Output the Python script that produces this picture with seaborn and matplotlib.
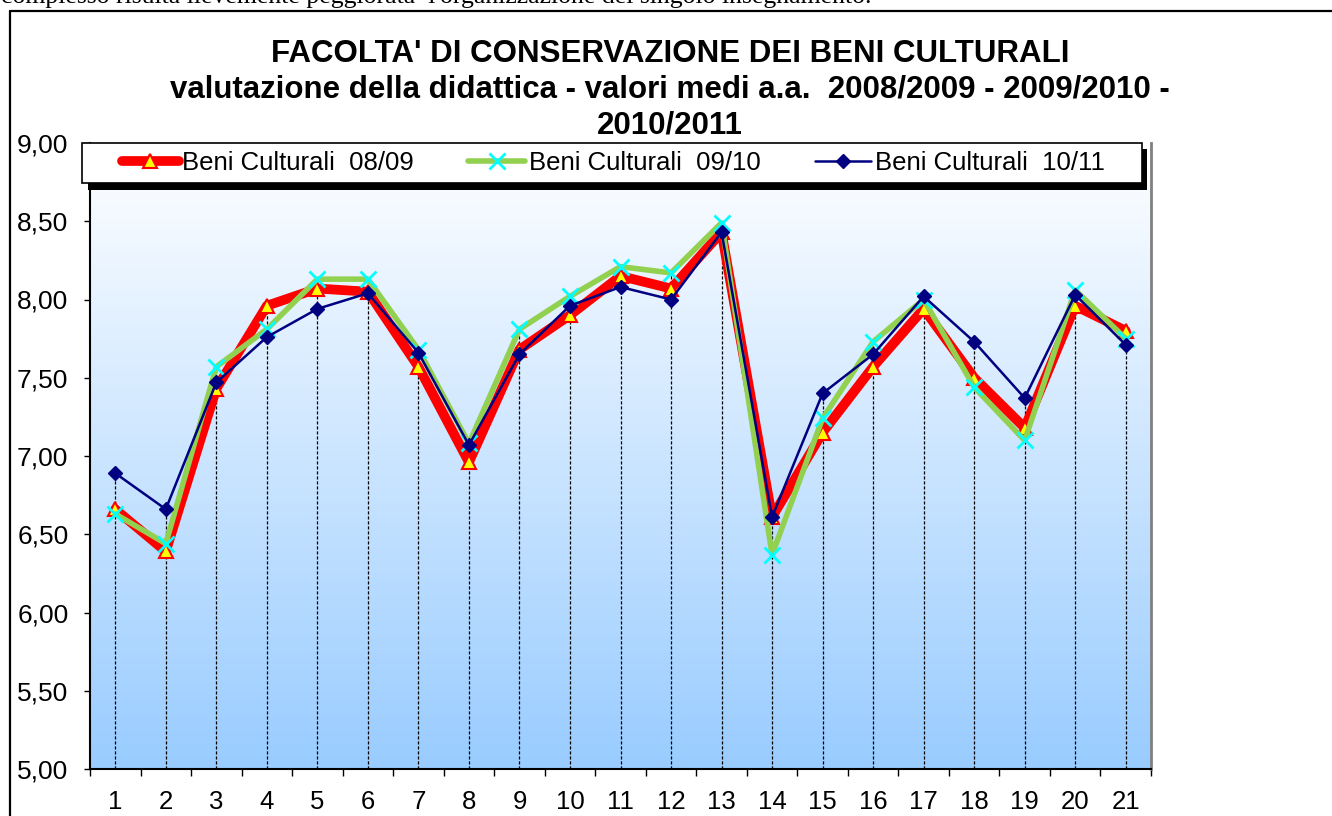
import numpy as np
import seaborn as sns
from matplotlib import pyplot as plt
from matplotlib.colors import LinearSegmentedColormap
from matplotlib.lines import Line2D
from matplotlib.patches import Rectangle
from matplotlib.ticker import FuncFormatter


# Data
corsi = list(range(1, 22))
bc0809 = [6.66, 6.39, 7.43, 7.96, 8.07, 8.05, 7.57, 6.96, 7.68, 7.90, 8.15,
          8.07, 8.43, 6.61, 7.15, 7.57, 7.94, 7.50, 7.18, 7.96, 7.80]
bc0910 = [6.63, 6.44, 7.57, 7.81, 8.13, 8.13, 7.68, 7.08, 7.81, 8.02, 8.21,
          8.17, 8.49, 6.37, 7.24, 7.73, 8.00, 7.44, 7.10, 8.06, 7.75]
bc1011 = [6.89, 6.66, 7.47, 7.76, 7.94, 8.04, 7.66, 7.07, 7.65, 7.96, 8.08,
          8.00, 8.43, 6.61, 7.40, 7.65, 8.02, 7.73, 7.37, 8.03, 7.71]
serieLabels = ['Beni Culturali  08/09', 'Beni Culturali  09/10', 'Beni Culturali  10/11']
titleLines = ["FACOLTA' DI CONSERVAZIONE DEI BENI CULTURALI",
              'valutazione della didattica - valori medi a.a.  2008/2009 - 2009/2010 -',
              '2010/2011']
bodyText = "complesso risulta lievemente peggiorata  l'organizzazione del singolo insegnamento."

sns.set_style('white')
plt.rcParams['font.family'] = ['Liberation Sans', 'DejaVu Sans']
plt.rcParams['text.color'] = 'black'
plt.rcParams['xtick.color'] = 'black'
plt.rcParams['ytick.color'] = 'black'

fig = plt.figure(figsize=(13.32, 8.16), dpi=100)
W, H = 1332, 816
ax = fig.add_axes([90 / W, 1 - 769 / H, (1151 - 90) / W, (769 - 143) / H])

# Background gradient of the plot area
bgMap = LinearSegmentedColormap.from_list('bg', ['#99CCFF', '#FFFFFF'])
ax.imshow(np.linspace(0, 1, 256).reshape(-1, 1), extent=(0, 1, 0, 1), transform=ax.transAxes,
          aspect='auto', cmap=bgMap, origin='lower', zorder=0)

# Drop lines from highest point to the axis
ax.vlines(corsi, 5, np.max([bc0809, bc0910, bc1011], axis=0), colors='black',
          linestyles=(0, (2.5, 1.5)), linewidth=0.9, zorder=1)

sns.lineplot(x=corsi, y=bc0809, ax=ax, color='#FF0000', linewidth=7, marker='^',
             markersize=10, markerfacecolor='#FFFF00', markeredgecolor='#FF0000',
             markeredgewidth=1.5, label=serieLabels[0], zorder=2)
sns.lineplot(x=corsi, y=bc0910, ax=ax, color='#92D050', linewidth=4, marker='x',
             markersize=11, markeredgecolor='#00FFFF', markeredgewidth=2,
             label=serieLabels[1], zorder=3)
sns.lineplot(x=corsi, y=bc1011, ax=ax, color='#000080', linewidth=1.8, marker='D',
             markersize=7, markerfacecolor='#000080', markeredgecolor='#000080',
             markeredgewidth=1, label=serieLabels[2], zorder=4)

ax.set_xlim(0.5, 21.5)
ax.set_ylim(5, 9)
ax.set_xticks(np.arange(0.5, 22, 1))
ax.set_xticklabels([])
ax.set_xticks(corsi, minor=True)
ax.set_xticklabels([str(c) for c in corsi], minor=True)
ax.set_yticks(np.arange(5, 9.01, 0.5))
ax.yaxis.set_major_formatter(FuncFormatter(lambda v, p: f'{v:.2f}'.replace('.', ',')))
ax.tick_params(axis='x', which='major', direction='out', length=5, width=1, color='black', bottom=True)
ax.tick_params(axis='x', which='minor', length=0, pad=15, labelsize=18.5, labelcolor='black')
ax.tick_params(axis='y', direction='out', length=4.5, width=1, color='black', pad=11,
               labelsize=19, labelcolor='black', left=True)
ax.set_xlabel('')
ax.set_ylabel('')

for side in ['left', 'bottom']:
    ax.spines[side].set_color('black')
    ax.spines[side].set_linewidth(1.5)
ax.spines['right'].set_color('#808080')
ax.spines['right'].set_linewidth(2)
ax.spines['top'].set_visible(False)

# Legend box with black shadow across the top of the plot area
fig.add_artist(Rectangle((88 / W, 1 - 190 / H), (1147 - 88) / W, (190 - 149) / H,
                         transform=fig.transFigure, facecolor='black', edgecolor='none', zorder=3))
fig.add_artist(Rectangle((82 / W, 1 - 183 / H), (1142 - 82) / W, (183 - 143) / H,
                         transform=fig.transFigure, facecolor='white', edgecolor='black',
                         linewidth=1.2, zorder=4))
handles, labels = ax.get_legend_handles_labels()
ax.get_legend().remove()
leg = fig.legend(handles, labels, ncol=3, mode='expand', loc='center',
                 bbox_to_anchor=(122 / W, 1 - 183 / H, (1105 - 122) / W, 40 / H),
                 fontsize=18.5, frameon=False, handlelength=2.2, handletextpad=0.15,
                 borderpad=0, borderaxespad=0, labelcolor='black')
leg.set_zorder(5)

# Title
for i, line in enumerate(titleLines):
    fig.text(670 / W, 1 - (62 + i * 36) / H, line, ha='center', va='baseline',
             fontsize=22.5, fontweight='bold', color='black')

# Page text and chart frame
fig.text(1 / W, 1 - 3 / H, bodyText, ha='left', va='baseline', fontsize=18.5, color='black',
         family=['Liberation Serif', 'DejaVu Serif'])
fig.add_artist(Line2D([10 / W, 1], [1 - 10.5 / H, 1 - 10.5 / H], transform=fig.transFigure,
                      color='black', linewidth=1.6))
fig.add_artist(Line2D([10.5 / W, 10.5 / W], [0, 1 - 10.5 / H], transform=fig.transFigure,
                      color='black', linewidth=1.6))

plt.savefig('out.png', dpi=100)
